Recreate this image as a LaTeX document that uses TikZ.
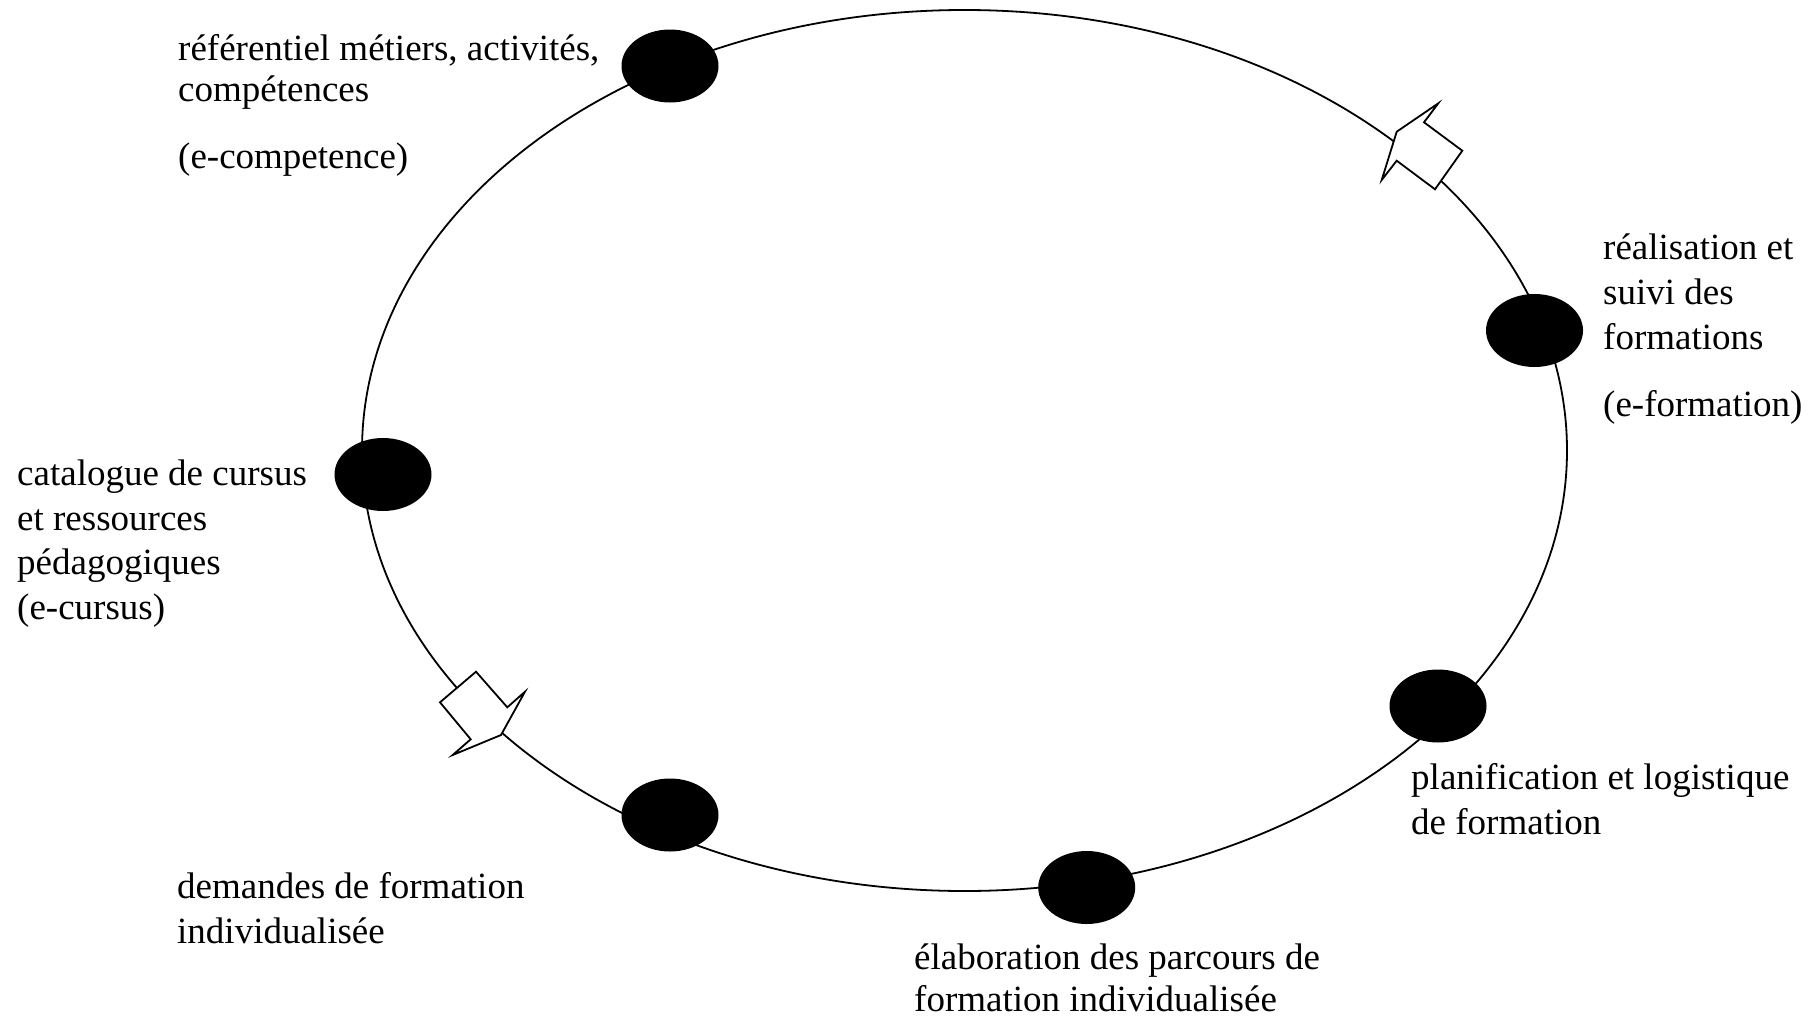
\documentclass[tikz,border=0pt]{standalone}
\usepackage{fontspec}
\setmainfont{Liberation Serif}
\usetikzlibrary{shapes.geometric}
\begin{document}
\begin{tikzpicture}[x=1pt,y=-1pt,
  dot/.style={ellipse, fill=black, minimum width=97pt, minimum height=73pt, inner sep=0pt},
  lbl/.style={anchor=base west, inner sep=0pt, font=\fontsize{37}{44}\selectfont},
  dirarrow/.style={draw=black, fill=white, line width=1.8pt, line join=miter}]
\useasboundingbox[fill=white] (0,0) rectangle (1818,1017);
% main cycle
\node[draw, ellipse, line width=1.8pt, minimum width=1205pt, minimum height=881pt, inner sep=0pt] (cycle) at (964.5,450.5) {};
% direction arrows
\draw[dirarrow] (1396.7,131.7) -- (1438.3,103.3) -- (1424,122.3) -- (1462.3,150.7) -- (1435,189.3) -- (1396.7,160.7) -- (1381.7,180) -- cycle;
\draw[dirarrow] (476,671.7) -- (440,702.3) -- (470.7,739.3) -- (452.7,755) -- (501,735) -- (525,691.7) -- (507.3,707.3) -- cycle;
% dots
\node[dot] (d1) at (670,66) {};
\node[dot] (d2) at (1534.5,330.5) {};
\node[dot] (d3) at (383,474.5) {};
\node[dot] (d4) at (1438,706) {};
\node[dot] (d5) at (670,815) {};
\node[dot] (d6) at (1086.7,887.5) {};
% labels
\node[lbl] (t1a) at (178,60) {référentiel métiers, activités,};
\node[lbl] (t1b) at (178,101) {compétences};
\node[lbl] (t1c) at (178,168) {(e-competence)};
\node[lbl] (t2a) at (1603,259) {réalisation et};
\node[lbl] (t2b) at (1603,304) {suivi des};
\node[lbl] (t2c) at (1603,349) {formations};
\node[lbl] (t2d) at (1603,416) {(e-formation)};
\node[lbl] (t3a) at (17,485) {catalogue de cursus};
\node[lbl] (t3b) at (17,530) {et ressources};
\node[lbl] (t3c) at (17,574) {pédagogiques};
\node[lbl] (t3d) at (17,619) {(e-cursus)};
\node[lbl] (t4a) at (1411,789) {planification et logistique};
\node[lbl] (t4b) at (1411,834) {de formation};
\node[lbl] (t5a) at (177,898) {demandes de formation};
\node[lbl] (t5b) at (177,943) {individualisée};
\node[lbl] (t6a) at (914,969) {élaboration des parcours de};
\node[lbl] (t6b) at (914,1011) {formation individualisée};
\end{tikzpicture}
\end{document}
